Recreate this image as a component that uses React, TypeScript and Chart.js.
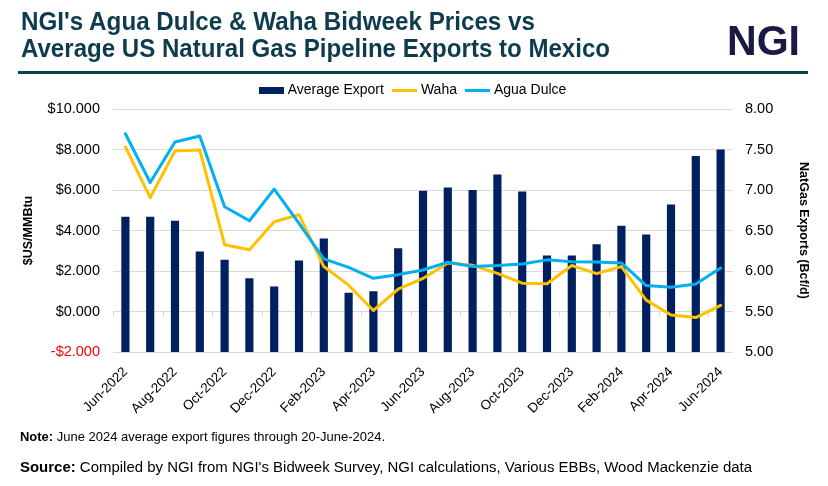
import React, { useEffect, useLayoutEffect, useRef } from 'react';
import { Chart, registerables } from 'chart.js';

Chart.register(...registerables);

const months = [
  'Jun-2022', 'Jul-2022', 'Aug-2022', 'Sep-2022', 'Oct-2022', 'Nov-2022', 'Dec-2022',
  'Jan-2023', 'Feb-2023', 'Mar-2023', 'Apr-2023', 'May-2023', 'Jun-2023', 'Jul-2023',
  'Aug-2023', 'Sep-2023', 'Oct-2023', 'Nov-2023', 'Dec-2023', 'Jan-2024', 'Feb-2024',
  'Mar-2024', 'Apr-2024', 'May-2024', 'Jun-2024',
];

// Average US natgas pipeline exports to Mexico (Bcf/d), right axis
const avgExport = [
  6.67, 6.67, 6.62, 6.24, 6.14, 5.91, 5.81, 6.13, 6.40, 5.73, 5.75, 6.28, 6.99,
  7.03, 7.00, 7.19, 6.98, 6.19, 6.19, 6.33, 6.56, 6.45, 6.82, 7.42, 7.50,
];

// Waha bidweek price ($US/MMBtu), left axis
const waha = [
  8.13, 5.62, 7.93, 7.98, 3.30, 3.05, 4.43, 4.78, 2.22, 1.30, 0.05, 1.10, 1.63,
  2.40, 2.28, 1.88, 1.40, 1.37, 2.27, 1.87, 2.22, 0.56, -0.17, -0.30, 0.30,
];

// Agua Dulce bidweek price ($US/MMBtu), left axis
const aguaDulce = [
  8.78, 6.37, 8.37, 8.67, 5.17, 4.48, 6.04, 4.35, 2.60, 2.18, 1.64, 1.82, 2.05,
  2.43, 2.22, 2.27, 2.35, 2.55, 2.46, 2.45, 2.40, 1.28, 1.20, 1.36, 2.15,
];

const priceMin = -2;
const priceMax = 10;
const priceStep = 2;
const exportMin = 5;
const exportMax = 8;
const exportStep = 0.5;

const NAVY = '#002060';
const GOLD = '#FFC000';
const SKY = '#00B0F0';
const GRID = '#d9d9d9';
const FONT = "'Liberation Sans', Arial, sans-serif";

function swatch(w: number, h: number, color: string) {
  const c = document.createElement('canvas');
  c.width = w;
  c.height = h;
  const g = c.getContext('2d')!;
  g.fillStyle = color;
  g.fillRect(0, 0, w, h);
  return c;
}

const zeroTicks = {
  id: 'zeroTicks',
  beforeDatasetsDraw(chart: any) {
    const xs = chart.scales.x;
    const ys = chart.scales.y;
    const y0 = Math.round(ys.getPixelForValue(0));
    const half = (xs.getPixelForValue(1) - xs.getPixelForValue(0)) / 2;
    const ctx = chart.ctx;
    ctx.save();
    ctx.strokeStyle = GRID;
    ctx.lineWidth = 1;
    for (let i = 0; i < months.length; i += 2) {
      const px = Math.round(xs.getPixelForValue(i) - half) + 0.5;
      ctx.beginPath();
      ctx.moveTo(px, y0);
      ctx.lineTo(px, y0 + 5);
      ctx.stroke();
    }
    ctx.restore();
  },
};

// adds a little space between the legend row and the plot area
const legendGap = {
  id: 'legendGap',
  afterInit(chart: any) {
    const lg = chart.legend;
    if (!lg || lg._gapPatched) return;
    const orig = lg.fit.bind(lg);
    lg.fit = function () {
      orig();
      this.height += 2;
    };
    lg._gapPatched = true;
  },
};

function Fit({ target, style, children }: { target: number; style: any; children: any }) {
  const r = useRef<HTMLDivElement>(null);
  useLayoutEffect(() => {
    const el = r.current;
    if (!el) return;
    el.style.transform = 'none';
    const w = el.getBoundingClientRect().width;
    if (w > 0) el.style.transform = `scaleX(${target / w})`;
  });
  return (
    <div
      ref={r}
      style={{ position: 'absolute', display: 'inline-block', whiteSpace: 'nowrap', transformOrigin: '0 0', ...style }}
    >
      {children}
    </div>
  );
}

export default function App() {
  const ref = useRef<HTMLCanvasElement>(null);

  useEffect(() => {
    if (!ref.current) return;
    const styles = [swatch(25, 7, NAVY), swatch(25, 3, GOLD), swatch(25, 3, SKY)];
    const chart = new Chart(ref.current, {
      type: 'bar',
      data: {
        labels: months,
        datasets: [
          {
            type: 'bar',
            label: 'Average Export',
            data: avgExport,
            backgroundColor: NAVY,
            yAxisID: 'y1',
            barPercentage: 0.33,
            categoryPercentage: 1.0,
            order: 2,
          },
          {
            type: 'line',
            label: 'Waha',
            data: waha,
            borderColor: GOLD,
            backgroundColor: GOLD,
            borderWidth: 3,
            pointRadius: 0,
            borderJoinStyle: 'round',
            borderCapStyle: 'round',
            yAxisID: 'y',
            order: 1,
          },
          {
            type: 'line',
            label: 'Agua Dulce',
            data: aguaDulce,
            borderColor: SKY,
            backgroundColor: SKY,
            borderWidth: 3,
            pointRadius: 0,
            borderJoinStyle: 'round',
            borderCapStyle: 'round',
            yAxisID: 'y',
            order: 0,
          },
        ] as any,
      },
      options: {
        animation: false,
        responsive: false,
        maintainAspectRatio: false,
        layout: { padding: { top: 72, left: 0, right: 0, bottom: 56 } },
        plugins: {
          tooltip: { enabled: false },
          legend: {
            display: true,
            position: 'top',
            labels: {
              usePointStyle: true,
              pointStyleWidth: 19,
              padding: 11,
              color: '#000',
              font: { family: FONT, size: 14 },
              sort: (a: any, b: any) => a.datasetIndex - b.datasetIndex,
              generateLabels: (c: any) =>
                Chart.defaults.plugins.legend.labels
                  .generateLabels(c)
                  .map((it: any) => ({ ...it, pointStyle: styles[it.datasetIndex] })),
            },
          },
        },
        scales: {
          x: {
            type: 'category',
            offset: true,
            grid: { display: false },
            border: { display: false },
            afterFit: (s: any) => {
              s.height = 78;
            },
            ticks: {
              autoSkip: false,
              maxRotation: 45,
              minRotation: 45,
              padding: 4,
              color: '#000',
              font: { family: FONT, size: 13.5 },
              callback: (_v: any, i: number) => (i % 2 === 0 ? months[i] : ''),
            },
          },
          y: {
            position: 'left',
            min: priceMin,
            max: priceMax,
            grid: { color: GRID, lineWidth: 1, drawTicks: false },
            border: { display: false },
            afterFit: (s: any) => {
              s.width = 113;
            },
            ticks: {
              stepSize: priceStep,
              padding: 13,
              font: { family: FONT, size: 14.5 },
              color: (ctx: any) => (ctx.tick && ctx.tick.value < 0 ? '#FF0000' : '#000'),
              callback: (v: any) => (v < 0 ? '-' : '') + '$' + Math.abs(Number(v)).toFixed(3),
            },
            title: {
              display: true,
              text: '$US/MMBtu',
              color: '#000',
              font: { family: FONT, size: 12.5, weight: 'bold' },
              padding: { top: 21, bottom: 0 },
            },
          },
          y1: {
            position: 'right',
            min: exportMin,
            max: exportMax,
            grid: { display: false, drawTicks: false },
            border: { display: false },
            afterFit: (s: any) => {
              s.width = 95;
            },
            ticks: {
              stepSize: exportStep,
              padding: 12,
              color: '#000',
              font: { family: FONT, size: 14.5 },
              callback: (v: any) => Number(v).toFixed(2),
            },
            title: {
              display: true,
              text: 'NatGas Exports (Bcf/d)',
              color: '#000',
              font: { family: FONT, size: 12.5, weight: 'bold' },
              padding: { top: 17, bottom: 0 },
            },
          },
        },
      } as any,
      plugins: [zeroTicks, legendGap],
    });
    return () => chart.destroy();
  }, []);

  const titleStyle = {
    fontFamily: FONT,
    fontWeight: 'bold',
    fontSize: 25,
    lineHeight: '27px',
    color: '#0f3b4f',
    left: 21,
  };

  return (
    <div style={{ position: 'absolute', left: 0, top: 0, width: 828, height: 486, background: '#fff', overflow: 'hidden' }}>
      <canvas ref={ref} width={828} height={486} style={{ position: 'absolute', left: 0, top: 0, width: 828, height: 486 }} />
      <Fit target={514} style={{ ...titleStyle, top: 8 }}>
        NGI's Agua Dulce &amp; Waha Bidweek Prices vs
      </Fit>
      <Fit target={589} style={{ ...titleStyle, top: 35 }}>
        Average US Natural Gas Pipeline Exports to Mexico
      </Fit>
      <Fit
        target={73}
        style={{
          left: 727,
          top: 17,
          fontFamily: FONT,
          fontWeight: 'bold',
          fontSize: 43,
          lineHeight: '46px',
          color: '#1b1a47',
        }}
      >
        NGI
      </Fit>
      <div style={{ position: 'absolute', left: 18, top: 71, width: 790, height: 3, background: '#0c3f50' }} />
      <Fit
        target={365}
        style={{ left: 20, top: 429, fontFamily: FONT, fontSize: 12.5, lineHeight: '16px', color: '#000' }}
      >
        <b>Note:</b> June 2024 average export figures through 20-June-2024.
      </Fit>
      <Fit
        target={732}
        style={{ left: 20, top: 457, fontFamily: FONT, fontSize: 15.5, lineHeight: '20px', color: '#000' }}
      >
        <b>Source:</b> Compiled by NGI from NGI's Bidweek Survey, NGI calculations, Various EBBs, Wood Mackenzie data
      </Fit>
    </div>
  );
}
